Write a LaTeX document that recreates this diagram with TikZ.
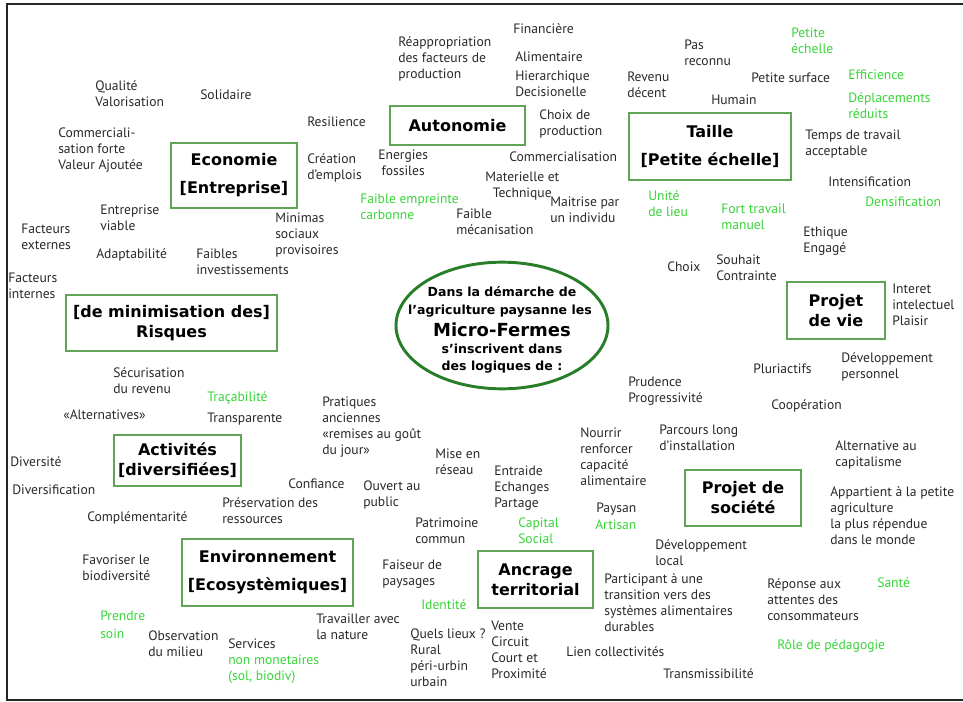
\documentclass[tikz,border=0pt]{standalone}
\usepackage{fontspec}
\setmainfont{PT Sans}
\newfontfamily\boxfont{DejaVu Sans}
\usetikzlibrary{shapes.geometric}
\definecolor{txtgray}{RGB}{40,40,40}
\definecolor{lgreen}{RGB}{55,212,55}
\definecolor{boxgreen}{RGB}{95,165,85}
\definecolor{ellgreen}{RGB}{40,125,40}
\tikzset{
  lbl/.style={inner sep=0pt, anchor=north west, align=left, text=txtgray,
    font=\fontsize{10.2}{12}\selectfont},
  lblc/.style={lbl, align=center},
  glbl/.style={lbl, text=lgreen},
  topic/.style={draw=boxgreen, line width=1.4pt, inner sep=0pt, align=center,
    text=black, font=\boxfont\bfseries\fontsize{12}{15}\selectfont},
  centre/.style={ellipse, draw=ellgreen, line width=2.2pt, inner sep=0pt,
    minimum width=159pt, minimum height=95pt},
  ctext/.style={inner sep=0pt, anchor=base, text=black,
    font=\boxfont\bfseries\fontsize{9.4}{12}\selectfont},
  frame/.style={draw=black!85, line width=1.5pt}
}
\newcommand\lab[5][lbl]{\node[#1] (#2) at (#3,#4-6.8) {\strut #5};}
\begin{document}
\begin{tikzpicture}[x=0.75pt,y=-0.75pt]
\useasboundingbox (0,0) rectangle (963,702);
\coordinate (fa) at (966,4);
\coordinate (fb) at (7,4);
\coordinate (fc) at (7,700);
\coordinate (fd) at (966,700);
\draw[frame] (fa) -- (fb) -- (fc) -- (fd);

% central ellipse
\node[centre] (core) at (502,325.5) {};
\node[ctext] (c1) at (502,296.5) {Dans la démarche de};
\node[ctext] (c2) at (500,314.5) {l’agriculture paysanne les};
\node[ctext, font=\boxfont\bfseries\fontsize{13.5}{15}\selectfont] (c3) at (502,336.5) {Micro-Fermes};
\node[ctext] (c4) at (502,353.5) {s’inscrivent dans};
\node[ctext] (c5) at (502,370.5) {des logiques de :};

% topic boxes
\node[topic, minimum width=101.25pt, minimum height=29.25pt] (auto) at (457.5,125.5) {Autonomie};
\node[topic, minimum width=94.5pt, minimum height=48.75pt] (eco) at (234,175.5) {Economie\\[6pt]{[}Entreprise{]}};
\node[topic, minimum width=121.5pt, minimum height=50.25pt] (taille) at (710,146.5) {Taille\\[6pt]{[}Petite échelle{]}};
\node[topic, minimum width=73.5pt, minimum height=42.75pt] (vie) at (836,310.5) {Projet\\de vie};
\node[topic, minimum width=158.25pt, minimum height=42pt] (risq) at (171.5,323) {{[}de minimisation des{]}\\Risques};
\node[topic, minimum width=95.25pt, minimum height=38.25pt] (activ) at (177.5,460.5) {Activités\\{[}diversifiées{]}};
\node[topic, minimum width=128.25pt, minimum height=50.25pt] (envir) at (267.5,572.5) {Environnement\\[6pt]{[}Ecosystèmiques{]}};
\node[topic, minimum width=86.25pt, minimum height=42.75pt] (ancr) at (535.5,579.5) {Ancrage\\territorial};
\node[topic, minimum width=87pt, minimum height=42pt] (soc) at (743,498) {Projet de\\société};

% labels
\lab{q1}{95}{86}{Qualité\\Valorisation}
\lab{q2}{200}{95}{Solidaire}
\lab{q3}{58}{133}{Commerciali-\\sation forte\\Valeur Ajoutée}
\lab{q4}{100}{210}{Entreprise\\viable}
\lab{q5}{21}{229}{Facteurs\\externes}
\lab{q6}{96}{254}{Adaptabilité}
\lab{q7}{196}{254}{Faibles\\investissements}
\lab{q8}{8}{278}{Facteurs\\internes}
\lab{q9}{307}{122}{Resilience}
\lab{q10}{307}{159}{Création\\d’emplois}
\lab[lblc]{q11}{378}{155}{Energies\\fossiles}
\lab[glbl]{g1}{360}{199}{Faible empreinte\\carbonne}
\lab{q12}{275}{218}{Minimas\\sociaux\\provisoires}
\lab{q13}{456}{214}{Faible\\mécanisation}
\lab{q14}{398}{42}{Réappropriation\\des facteurs de\\production}
\lab{q15}{513}{29}{Financière}
\lab{q16}{515}{57}{Alimentaire\\[2pt]Hierarchique\\Decisionelle}
\lab{q17}{539}{115}{Choix de\\production}
\lab{q18}{509}{157}{Commercialisation}
\lab[lblc]{q19}{485}{177}{Materielle et\\Technique}
\lab{q20}{550}{202}{Maitrise par\\un individu}
\lab{q21}{684}{45}{Pas\\reconnu}
\lab{q22}{627}{77}{Revenu\\décent}
\lab{q23}{711}{100}{Humain}
\lab{q24}{751}{78}{Petite surface}
\lab[glbl]{g2}{791}{33}{Petite\\échelle}
\lab[glbl]{g3}{848}{75}{Efficience}
\lab[glbl]{g4}{848}{98}{Déplacements\\réduits}
\lab{q25}{805}{135}{Temps de travail\\acceptable}
\lab{q26}{828}{182}{Intensification}
\lab[glbl]{g5}{865}{202}{Densification}
\lab[glbl]{g6}{721}{209}{Fort travail\\manuel}
\lab[glbl]{g7}{648}{196}{Unité\\de lieu}
\lab{q27}{803}{232}{Ethique\\Engagé}
\lab{q28}{667}{267}{Choix}
\lab{q29}{716}{260}{Souhait\\Contrainte}
\lab{q30}{892}{289}{Interet\\intelectuel\\Plaisir}
\lab{q31}{841}{358}{Développement\\personnel}
\lab{q32}{753}{369}{Pluriactifs}
\lab{q33}{771}{405}{Coopération}
\lab{q34}{628}{382}{Prudence\\Progressivité}
\lab{q35}{659}{430}{Parcours long\\d’installation}
\lab{q36}{835}{446}{Alternative au\\capitalisme}
\lab{q37}{580}{433}{Nourrir\\renforcer\\capacité\\alimentaire}
\lab{q38}{113}{373}{Sécurisation\\du revenu}
\lab[glbl]{g8}{207}{397}{Traçabilité}
\lab{q39}{63}{415}{«Alternatives»}
\lab{q40}{207}{418}{Transparente}
\lab{q41}{322}{402}{Pratiques\\anciennes\\«remises au goût\\du jour»}
\lab{q42}{435}{454}{Mise en\\réseau}
\lab{q43}{10}{462}{Diversité}
\lab{q44}{12}{490}{Diversification}
\lab{q45}{87}{517}{Complémentarité}
\lab{q46}{222}{503}{Préservation des\\ressources}
\lab{q47}{288}{484}{Confiance}
\lab{q48}{363}{486}{Ouvert au\\public}
\lab{q49}{494}{471}{Entraide\\Echanges\\Partage}
\lab[glbl]{g9}{518}{523}{Capital\\Social}
\lab{q50}{596}{508}{Paysan}
\lab[glbl]{g10}{595}{525}{Artisan}
\lab{q51}{415}{523}{Patrimoine\\commun}
\lab{q52}{82}{560}{Favoriser le\\biodiversité}
\lab{q53}{382}{565}{Faiseur de\\paysages}
\lab[glbl]{g11}{421}{605}{Identité}
\lab{q54}{655}{545}{Développement\\local}
\lab{q55}{604}{579}{Participant à une\\transition vers des\\systèmes alimentaires\\durables}
\lab{q56}{830}{492}{Appartient à la petite\\agriculture\\la plus répendue\\dans le monde}
\lab{q57}{767}{584}{Réponse aux\\attentes des\\consommateurs}
\lab[glbl]{g12}{877}{583}{Santé}
\lab[glbl]{g13}{777}{645}{Rôle de pédagogie}
\lab{q58}{663}{674}{Transmissibilité}
\lab{q59}{566}{652}{Lien collectivités}
\lab{q60}{491}{626}{Vente\\Circuit\\Court et\\Proximité}
\lab{q61}{410}{634}{Quels lieux ?\\Rural\\péri-urbin\\urbain}
\lab{q62}{316}{619}{Travailler avec\\la nature}
\lab{q63}{228}{644}{Services}
\lab[glbl]{g14}{228}{660}{non monetaires\\(sol, biodiv)}
\lab{q64}{148}{636}{Observation\\du milieu}
\lab[glbl]{g15}{100}{616}{Prendre\\[1pt]soin}
\end{tikzpicture}
\end{document}
